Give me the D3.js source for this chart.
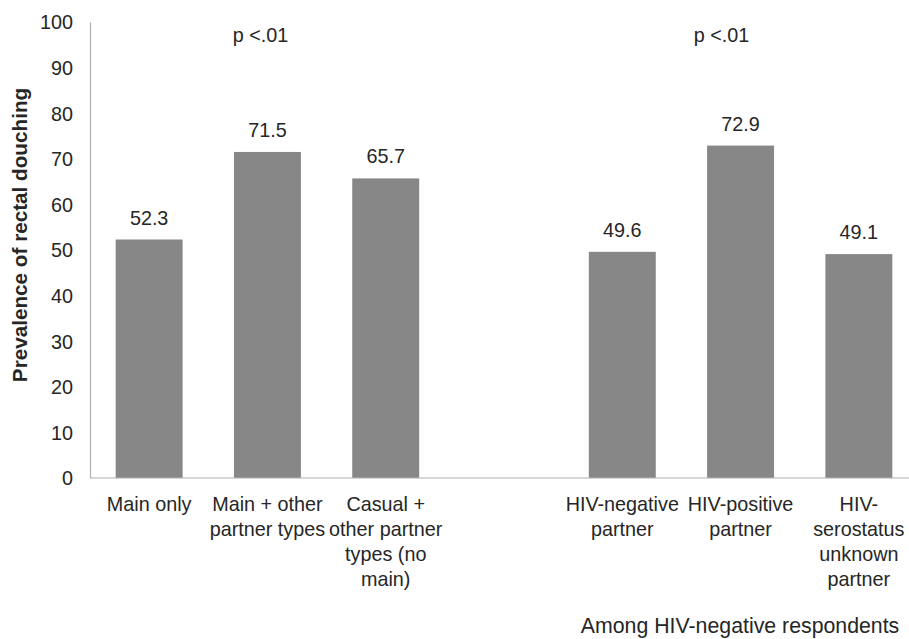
<!DOCTYPE html>
<html>
<head>
<meta charset="utf-8">
<script src="https://cdn.jsdelivr.net/npm/d3@7"></script>
<style>
  html, body { margin: 0; padding: 0; background: #fff; }
  svg { display: block; }
  text { font-family: "Liberation Sans", Arial, Helvetica, sans-serif; fill: #262626; }
</style>
</head>
<body>
<svg id="chart" width="909" height="639"></svg>
<script>
// ---- data ----
const categories = ["main", "mainOther", "casualOther", "gap", "hivNeg", "hivPos", "hivUnknown"];
const categoryLabels = [
  ["Main only"],
  ["Main + other", "partner types"],
  ["Casual +", "other partner", "types (no", "main)"],
  [],
  ["HIV-negative", "partner"],
  ["HIV-positive", "partner"],
  ["HIV-", "serostatus", "unknown", "partner"]
];
const values = [52.3, 71.5, 65.7, null, 49.6, 72.9, 49.1];
const yTicks = [0, 10, 20, 30, 40, 50, 60, 70, 80, 90, 100];
const pLabels = ["p <.01", "p <.01"];
const yTitle = "Prevalence of rectal douching";
const footnote = "Among HIV-negative respondents";

// ---- layout ----
const FS = 19.8;
const svg = d3.select("#chart");
const mLeft = 90, mRight = 918, mTop = 22, mBottom = 478;

const x = d3.scaleBand().domain(categories).range([mLeft, mRight])
  .paddingInner(0.434).paddingOuter(0.217);
const y = d3.scaleLinear().domain([0, 100]).range([mBottom, mTop]);

// bars
const rows = categories.map((c, i) => ({ c, v: values[i], lines: categoryLabels[i] }));
svg.append("g").selectAll("rect").data(rows.filter(d => d.v != null)).join("rect")
  .attr("x", d => x(d.c))
  .attr("y", d => y(d.v))
  .attr("width", x.bandwidth())
  .attr("height", d => y(0) - y(d.v))
  .attr("fill", "#878787");

// value labels
svg.append("g").selectAll("text").data(rows.filter(d => d.v != null)).join("text")
  .attr("x", d => x(d.c) + x.bandwidth() / 2)
  .attr("y", d => y(d.v) - 15)
  .attr("text-anchor", "middle")
  .attr("font-size", FS)
  .text(d => d.v.toFixed(1));

// y axis
const yAxis = svg.append("g").attr("transform", `translate(${mLeft},0)`)
  .call(d3.axisLeft(y).tickValues(yTicks).tickSize(0).tickPadding(17).tickFormat(d3.format("d")));
yAxis.select(".domain").attr("stroke", "#b0b0b0").attr("stroke-width", 1.2);
yAxis.selectAll("text").attr("font-size", FS).attr("font-family", null).attr("fill", "#262626").attr("dy", "0.35em");

// x baseline
svg.append("line")
  .attr("x1", mLeft).attr("x2", 909)
  .attr("y1", y(0)).attr("y2", y(0))
  .attr("stroke", "#b0b0b0").attr("stroke-width", 1.2);

// x labels
const xl = svg.append("g").selectAll("text").data(rows).join("text")
  .attr("text-anchor", "middle")
  .attr("font-size", FS)
  .attr("x", d => x(d.c) + x.bandwidth() / 2)
  .attr("y", mBottom + 33);
xl.selectAll("tspan").data(d => d.lines.map(l => ({ l, cx: x(d.c) + x.bandwidth() / 2 }))).join("tspan")
  .attr("x", d => d.cx)
  .attr("dy", (d, i) => i === 0 ? 0 : 25)
  .text(d => d.l);

// y title
svg.append("text")
  .attr("transform", `translate(27,235) rotate(-90)`)
  .attr("text-anchor", "middle")
  .attr("font-size", 20.7)
  .attr("font-weight", "bold")
  .text(yTitle);

// p labels
const pPos = [
  (x("mainOther") + x.bandwidth() / 2) - 7,
  (x("hivPos") + x.bandwidth() / 2) - 19
];
svg.append("g").selectAll("text").data(pLabels).join("text")
  .attr("x", (d, i) => pPos[i])
  .attr("y", y(100) + 20)
  .attr("text-anchor", "middle")
  .attr("font-size", FS)
  .text(d => d);

// footnote
svg.append("text")
  .attr("x", x("hivNeg") - 8)
  .attr("y", 633)
  .attr("text-anchor", "start")
  .attr("font-size", 21.3)
  .text(footnote);
</script>
</body>
</html>
